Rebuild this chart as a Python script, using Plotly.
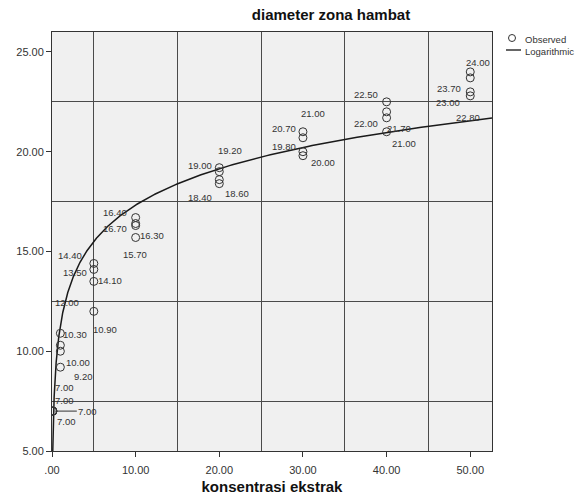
import numpy as np
import plotly.graph_objects as go

# ---- data ----
konsentrasi = [0.1, 0.1, 0.1, 0.1,
               1, 1, 1, 1,
               5, 5, 5, 5,
               10, 10, 10, 10,
               20, 20, 20, 20,
               30, 30, 30, 30,
               40, 40, 40, 40,
               50, 50, 50, 50]
diameter = [7.00, 7.00, 7.00, 7.00,
            10.90, 10.30, 10.00, 9.20,
            14.40, 14.10, 13.50, 12.00,
            16.70, 16.40, 16.30, 15.70,
            19.20, 19.00, 18.60, 18.40,
            21.00, 20.70, 20.00, 19.80,
            22.50, 22.00, 21.70, 21.00,
            24.00, 23.70, 23.00, 22.80]
x_tick_vals = [0, 10, 20, 30, 40, 50]
x_tick_text = [".00", "10.00", "20.00", "30.00", "40.00", "50.00"]
y_tick_vals = [5, 10, 15, 20, 25]
y_tick_text = ["5.00", "10.00", "15.00", "20.00", "25.00"]

# label offsets (pixels, dx right, dy down) – layout only
label_offsets = [(12, -24), (12, -11), (35, 0), (14, 10),
                 (45, -4), (15, -11), (18, 11), (23, 9),
                 (-24, -8), (16, 11), (-19, -9), (-27, -9),
                 (-21, 11), (-21, -11), (16, 10), (-1, 17),
                 (11, -17), (-19, -6), (18, 14), (-19, 14),
                 (10, -18), (-19, -9), (20, 11), (-19, -9),
                 (-21, -7), (-21, 12), (12, 11), (17, 12),
                 (8, -9), (-21, 11), (-22, 11), (-2, 22)]
arrow_label = 2  # index of the label with a leader line

FONT = "Liberation Sans, Arial, sans-serif"
X_MAX = 52.6
Y_MIN, Y_MAX = 5, 26

# logarithmic fit y = a + b ln(x)
b, a = np.polyfit(np.log(konsentrasi), diameter, 1)
x_start = np.exp((Y_MIN - a) / b)
x_fit = np.geomspace(x_start, X_MAX, 400)
y_fit = a + b * np.log(x_fit)

fig = go.Figure()
fig.add_trace(go.Scatter(x=x_fit, y=y_fit, mode="lines", name="Logarithmic",
                         line=dict(color="#1a1a1a", width=1.5), showlegend=False,
                         hoverinfo="skip"))
fig.add_trace(go.Scatter(x=konsentrasi, y=diameter, mode="markers", name="Observed",
                         marker=dict(symbol="circle-open", size=8,
                                     color="#333333", line=dict(width=1)),
                         showlegend=False))

for i, (xv, yv) in enumerate(zip(konsentrasi, diameter)):
    dx, dy = label_offsets[i]
    if i == arrow_label:
        fig.add_annotation(x=xv, y=yv, text=f"{yv:.2f}", showarrow=True,
                           ax=dx, ay=dy, arrowhead=0, arrowwidth=1,
                           arrowcolor="#333333", standoff=2,
                           font=dict(family=FONT, size=9.5, color="#333333"))
    else:
        fig.add_annotation(x=xv, y=yv, text=f"{yv:.2f}", showarrow=False,
                           xshift=dx, yshift=-dy,
                           font=dict(family=FONT, size=9.5, color="#333333"))

# manual legend (outside the plot area, top right)
L, T, W, H = 52, 32, 440, 419
def px_x(p):
    return (p - L) / W
def px_y(p):
    return (T + H - p) / H

fig.add_shape(type="circle", xref="paper", yref="paper",
              xsizemode="pixel", ysizemode="pixel",
              xanchor=px_x(512), yanchor=px_y(38),
              x0=-3.5, x1=3.5, y0=-3.5, y1=3.5,
              line=dict(color="#333333", width=1))
fig.add_shape(type="line", xref="paper", yref="paper",
              x0=px_x(506), x1=px_x(521), y0=px_y(50), y1=px_y(50),
              line=dict(color="#333333", width=1.5))
fig.add_annotation(xref="paper", yref="paper", x=px_x(523), y=px_y(39),
                   text="Observed", showarrow=False, xanchor="left", yanchor="middle",
                   font=dict(family=FONT, size=9.5, color="#333333"))
fig.add_annotation(xref="paper", yref="paper", x=px_x(523), y=px_y(51),
                   text="Logarithmic", showarrow=False, xanchor="left", yanchor="middle",
                   font=dict(family=FONT, size=9.5, color="#333333"))

fig.update_layout(
    width=585, height=495,
    margin=dict(l=L, r=585 - L - W, t=T, b=495 - T - H),
    paper_bgcolor="white",
    plot_bgcolor="#f0f0f0",
    font=dict(family=FONT, size=11, color="#333333"),
    title=dict(text="<b>diameter zona hambat</b>", x=331 / 585, xref="container",
               xanchor="center", y=1 - 15 / 495, yanchor="middle",
               font=dict(family=FONT, size=15, color="#111111")),
    showlegend=False,
)
fig.update_xaxes(range=[0, X_MAX], tickvals=x_tick_vals, ticktext=x_tick_text,
                 ticks="outside", ticklen=5, tickcolor="#333333",
                 ticklabelstandoff=4, automargin=False,
                 showgrid=False, zeroline=False,
                 showline=True, mirror=True, linecolor="#333333", linewidth=1,
                 minor=dict(tick0=5, dtick=10, showgrid=True, gridcolor="#4a4a4a",
                            gridwidth=1, ticks=""),
                 title=dict(text="<b>konsentrasi ekstrak</b>", standoff=12,
                            font=dict(family=FONT, size=15, color="#111111")),
                 tickfont=dict(family=FONT, size=11, color="#333333"))
fig.update_yaxes(range=[Y_MIN, Y_MAX], tickvals=y_tick_vals, ticktext=y_tick_text,
                 ticks="outside", ticklen=5, tickcolor="#333333",
                 automargin=False,
                 showgrid=False, zeroline=False,
                 showline=True, mirror=True, linecolor="#333333", linewidth=1,
                 minor=dict(tick0=7.5, dtick=5, showgrid=True, gridcolor="#4a4a4a",
                            gridwidth=1, ticks=""),
                 tickfont=dict(family=FONT, size=11, color="#333333"))

fig.write_html("out.html",
               config={"displayModeBar": False},
               post_script="document.body.style.margin='0px';")
